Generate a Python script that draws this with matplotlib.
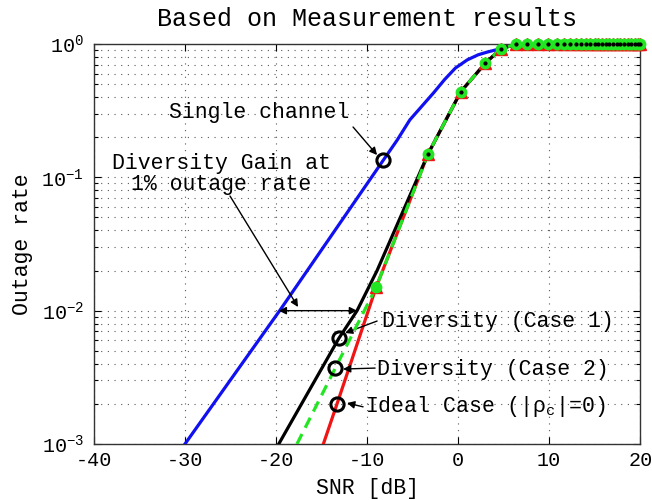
import matplotlib
matplotlib.use("Agg")
import matplotlib.pyplot as plt
from matplotlib.ticker import LogLocator, NullFormatter, FixedLocator

plt.rcParams['font.family'] = ['Liberation Mono', 'DejaVu Sans Mono']
plt.rcParams['axes.unicode_minus'] = False
plt.rcParams['mathtext.default'] = 'regular'

# ---- data ----
# Single channel
snr_single = [-30.0, -19.6, -8.2, -6.7, -5.3, -2.7, -1.5, -0.3, 1.0, 2.2, 3.2, 4.6, 6.0, 20.0]
out_single = [1e-3, 1e-2, 0.135, 0.19, 0.27, 0.43, 0.54, 0.66, 0.76, 0.83, 0.87, 0.92, 0.98, 1.0]

# SNR points shared by the diversity curves above the knee
snr_top = [-3.3, 0.3, 3.0, 4.7, 6.3, 7.6, 8.8, 9.9, 10.9, 11.6, 12.3, 12.9, 13.5,
           14.0, 14.5, 15.0, 15.4, 15.8, 16.2, 16.6, 17.0, 17.4, 17.8, 18.2,
           18.6, 19.0, 19.4, 19.7, 20.0]
out_top = [0.15, 0.44, 0.72, 0.92, 0.995] + [1.0] * 24

# Diversity (Case 1)
snr_case1 = [-19.7, -13.1, -11.1, -8.9] + snr_top
out_case1 = [1e-3, 0.0062, 0.01, 0.02] + out_top

# Diversity (Case 2)
snr_case2 = [-17.7, -9.0] + snr_top
out_case2 = [1e-3, 0.015] + out_top

# Ideal case
snr_ideal = [-14.8, -13.3, -9.0] + snr_top
out_ideal = [1e-3, 0.0020, 0.015] + out_top

# Marked points on each curve
snr_mark_single, out_mark_single = -8.2, 0.135
snr_mark_case1, out_mark_case1 = -13.1, 0.0062
snr_mark_case2, out_mark_case2 = -13.5, 0.0037
snr_mark_ideal, out_mark_ideal = -13.3, 0.0020

# 1% outage gain interval
gain_y = 1e-2
gain_x0, gain_x1 = -19.7, -11.1

xticks = [-40, -30, -20, -10, 0, 10, 20]
yticks = [1e-3, 1e-2, 1e-1, 1e0]
ytick_labels = [r'$\mathregular{10^{-3}}$', r'$\mathregular{10^{-2}}$',
                r'$\mathregular{10^{-1}}$', r'$\mathregular{10^{0}}$']

# ---- figure ----
fig = plt.figure(figsize=(6.52, 5.00), dpi=100)
ax = fig.add_axes([0.144, 0.112, 0.838, 0.800])
ax.set_yscale('log')
ax.set_xlim(-40, 20)
ax.set_ylim(1e-3, 1)

lw = 2.3
ax.plot(snr_single, out_single, color='#1010f0', lw=lw, zorder=3)
ax.plot(snr_ideal, out_ideal, color='#f01414', lw=lw, zorder=3)
ax.plot(snr_case1, out_case1, color='black', lw=lw, zorder=4)
ax.plot(snr_case2, out_case2, color='#22e622', lw=lw, ls=(0, (3.5, 2.2)), zorder=5)

# markers on the diversity curves (left unclipped at the frame)
ax.plot(snr_ideal[2:], out_ideal[2:], ls='none', marker='^', ms=8,
        color='#f01414', clip_on=False, zorder=6)
ax.plot(snr_case2[1:], out_case2[1:], ls='none', marker='o', ms=7.5,
        color='#22e622', clip_on=False, zorder=7)
ax.plot(snr_case1[4:], out_case1[4:], ls='none', marker='.', ms=4,
        color='black', clip_on=False, zorder=8)

# open circles highlighting one point of each curve
for sx, sy in [(snr_mark_single, out_mark_single), (snr_mark_case1, out_mark_case1),
               (snr_mark_case2, out_mark_case2), (snr_mark_ideal, out_mark_ideal)]:
    ax.plot(sx, sy, ls='none', marker='o', ms=9.5, mfc='none', mec='black',
            mew=2.2, zorder=9)

arrow = dict(arrowstyle='-|>', color='black', lw=1.0, mutation_scale=11,
             shrinkA=0, shrinkB=0)
fs = 15.5

ax.text(-21.8, 0.304, 'Single channel', fontsize=fs, ha='center', va='center', zorder=10)
ax.annotate('', xy=(-8.9, 0.147), xytext=(-11.54, 0.2385), arrowprops=arrow)

ax.text(-26.0, 0.106, 'Diversity Gain at\n1% outage rate', fontsize=fs,
        ha='center', va='center', multialignment='center', linespacing=1.0, zorder=10)
ax.annotate('', xy=(-17.58, 0.01065), xytext=(-25.05, 0.0724), arrowprops=arrow)
ax.annotate('', xy=(gain_x0, gain_y), xytext=(gain_x1, gain_y),
            arrowprops=dict(arrowstyle='<|-|>', color='black', lw=1.0,
                            mutation_scale=11, shrinkA=0, shrinkB=0))

ax.text(-8.35, 0.00836, 'Diversity (Case 1)', fontsize=fs, ha='left', va='center', zorder=10)
ax.annotate('', xy=(-12.42, 0.0068), xytext=(-8.9, 0.00836), arrowprops=arrow)
ax.text(-8.9, 0.00365, 'Diversity (Case 2)', fontsize=fs, ha='left', va='center', zorder=10)
ax.annotate('', xy=(-12.64, 0.00365), xytext=(-9.12, 0.00371), arrowprops=arrow)
ax.text(-10.22, 0.0019, r'Ideal Case (|$\mathregular{\rho_c}$|=0)', fontsize=fs,
        ha='left', va='center', zorder=10)
ax.annotate('', xy=(-12.2, 0.00203), xytext=(-10.44, 0.0019), arrowprops=arrow)

# ticks and grid
ax.xaxis.set_major_locator(FixedLocator(xticks))
ax.set_xticklabels([str(v) for v in xticks])
ax.yaxis.set_major_locator(FixedLocator(yticks))
ax.set_yticklabels(ytick_labels)
ax.yaxis.set_minor_locator(LogLocator(base=10, subs=range(2, 10)))
ax.yaxis.set_minor_formatter(NullFormatter())
ax.tick_params(which='both', direction='in', top=True, right=True,
               labelsize=14.5, width=0.8)
ax.tick_params(which='major', length=5)
ax.tick_params(which='minor', length=3)
ax.tick_params(axis='y', pad=7)
ax.tick_params(axis='x', pad=5)
grid_kw = dict(color='0.35', lw=0.8, ls=(0, (1, 5)))
ax.grid(True, which='major', axis='both', **grid_kw)
ax.grid(True, which='minor', axis='y', **grid_kw)
for s in ax.spines.values():
    s.set_linewidth(1.0)
    s.set_color('0.2')
ax.set_axisbelow(True)

ax.set_xlabel('SNR [dB]', fontsize=15.5, labelpad=6)
ax.set_ylabel('Outage rate', fontsize=15.5, labelpad=6)
ax.set_title('Based on Measurement results', fontsize=18, pad=13)

fig.savefig('out.png', dpi=100)
